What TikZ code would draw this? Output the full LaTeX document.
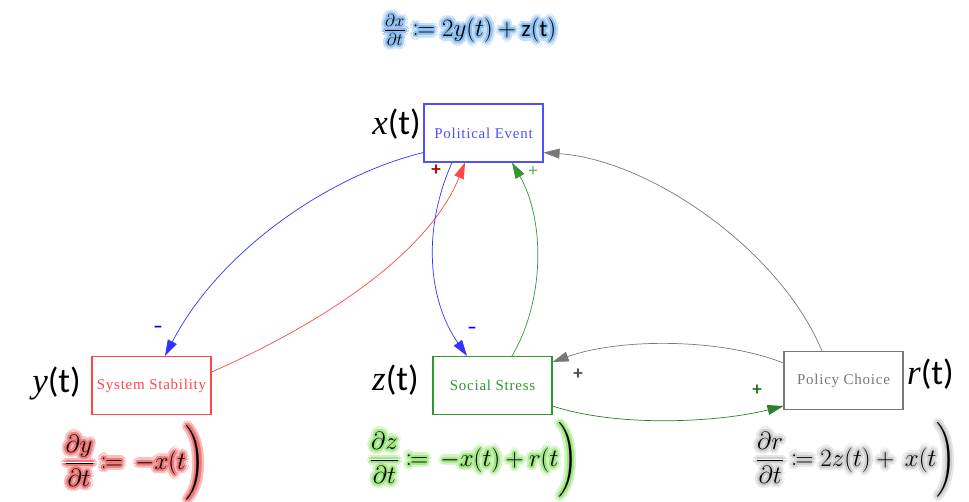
\documentclass[tikz,border=0pt]{standalone}
\usepackage{mathtools}
\usepackage{fontspec}
\setmainfont{Carlito}
\newfontfamily\boxfont[LetterSpace=5]{Liberation Serif}
\newfontfamily\varfont{Liberation Serif}
\usetikzlibrary{arrows.meta,calc}
\definecolor{peblue}{RGB}{80,80,255}
\definecolor{ssred}{RGB}{255,70,70}
\definecolor{sogreen}{RGB}{50,150,50}
\definecolor{pcgray}{RGB}{120,120,120}
\definecolor{glowblue}{RGB}{140,190,240}
\definecolor{glowred}{RGB}{240,120,120}
\definecolor{glowgreen}{RGB}{160,230,130}
\definecolor{glowgray}{RGB}{205,205,205}
\tikzset{
  box/.style={draw, line width=1.1pt, minimum width=119pt, minimum height=58pt, inner sep=0pt, fill=white, font=\boxfont\fontsize{15}{17}\selectfont},
  conn/.style={line width=0.7pt, -{Triangle[length=16pt,width=10pt]}},
  sign/.style={font=\fontsize{19}{21}\selectfont\bfseries, inner sep=0pt},
  biglabel/.style={font=\fontsize{35}{38}\selectfont, inner sep=0pt},
  eqfont/.style={font=\fontsize{23}{26}\selectfont, inner sep=0pt}
}
\newcommand\vn[1]{{\varfont\itshape #1}}
\newcommand\glownode[5]{%
  \foreach \a in {0,20,...,340}{\node[eqfont,text=#3!50] at ($(#2)+(\a:4.5)$) {#5};}
  \foreach \a in {0,30,...,330}{\node[eqfont,text=#3] at ($(#2)+(\a:2.2)$) {#5};}
  \node[eqfont,text=#4] (#1) at (#2) {#5};
}
\begin{document}
\begin{tikzpicture}[x=1pt,y=-1pt]
\useasboundingbox (0,0) rectangle (969,502);
% boxes
\node[box, draw=peblue, text=peblue] (pe) at (483.5,133) {Political Event};
\node[box, draw=ssred, text=ssred] (ss) at (151.5,385.5) {System Stability};
\node[box, draw=sogreen, text=sogreen] (so) at (492.5,385.5) {Social Stress};
\node[box, draw=pcgray, text=pcgray] (pc) at (843.5,380.5) {Policy Choice};
% big labels
\node[biglabel, anchor=east] (lx) at (421,124) {\vn{x}(t)};
\node[biglabel, anchor=east] (ly) at (81,383) {\vn{y}(t)};
\node[biglabel, anchor=east] (lz) at (419,380) {\vn{z}(t)};
\node[biglabel, anchor=west] (lr) at (907,374) {\vn{r}(t)};
% connectors
\draw[conn, blue!80] ($(pe.south west)+(0,-10)$) .. controls (330,175) and (220,250) .. ($(ss.north)+(13.5,0)$);
\draw[conn, ssred] ($(ss.east)+(0,-13.5)$) .. controls (330,320) and (430,250) .. ($(pe.south)+(-18.5,0)$);
\draw[conn, blue!80] ($(pe.south)+(-31.5,0)$) .. controls (422,230) and (428,300) .. ($(so.north)+(-25.5,0)$);
\draw[conn, sogreen] ($(so.north)+(19.5,0)$) .. controls (545,300) and (545,220) .. ($(pe.south)+(28.5,0)$);
\draw[conn, pcgray] ($(pc.north)+(-21.5,0)$) .. controls (780,250) and (650,160) .. ($(pe.south east)+(0,-10)$);
\draw[conn, pcgray] ($(pc.north west)+(0,12)$) .. controls (720,338) and (620,338) .. ($(so.north east)+(0,6)$);
\draw[conn, sogreen!85!black] ($(so.south east)+(0,-9)$) .. controls (620,428) and (720,422) .. ($(pc.south west)+(0,-4)$);
% signs
\node[sign, text=blue] (s1) at (158,329) {--};
\node[sign, text=red!70!black] (s2) at (436,170) {+};
\node[sign, text=sogreen!80, font=\fontsize{18}{20}\selectfont] (s3) at (533,172) {+};
\node[sign, text=blue] (s4) at (472,330) {--};
\node[sign, text=black!70] (s5) at (578,374) {+};
\node[sign, text=sogreen!80!black] (s6) at (757,390) {+};
% equations
\glownode{eqx}{470,30}{glowblue}{black}{$\frac{\partial x}{\partial t}\coloneqq 2y(t)+\mathrm{z(t)}$}
\glownode{eqy}{135,463}{glowred}{black}{$\displaystyle\frac{\partial y}{\partial t}\coloneqq\ -x(t\Biggr)$}
\glownode{eqz}{474,460}{glowgreen}{black}{$\displaystyle\frac{\partial z}{\partial t}\coloneqq\ -x(t)+r(t\Biggr)$}
\glownode{eqr}{856,460}{glowgray}{black}{$\displaystyle\frac{\partial r}{\partial t}\coloneqq 2z(t)+\ x(t\Biggr)$}
\end{tikzpicture}
\end{document}
